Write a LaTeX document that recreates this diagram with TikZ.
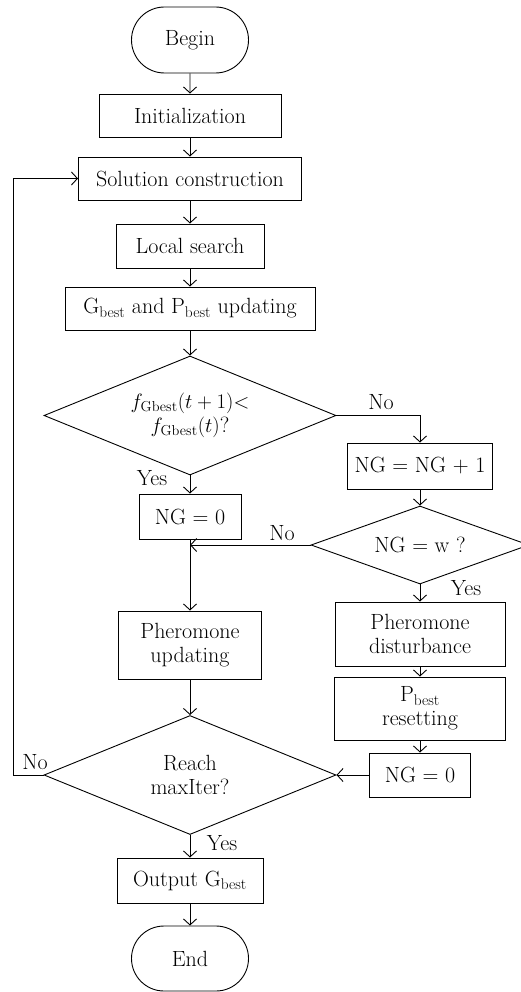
\documentclass[tikz,border=0pt]{standalone}
\usetikzlibrary{shapes.geometric,shapes.misc,arrows.meta}
\begin{document}
\begin{tikzpicture}[x=1pt,y=-1pt,
  font=\fontsize{22}{24}\selectfont,
  line width=0.9pt,
  >={Straight Barb[length=6pt,width=13pt]},
  box/.style={draw,rectangle,inner sep=0pt,align=center},
  term/.style={draw,rounded rectangle,inner sep=0pt,align=center},
  dia/.style={draw,diamond,inner sep=0pt,aspect=2.5,align=center},
  lbl/.style={inner sep=0pt}]
\useasboundingbox (0,0) rectangle (520,992);
\node[term,minimum width=117pt,minimum height=66pt] (begin) at (190,40) {Begin};
\node[box,minimum width=182pt,minimum height=43pt] (init) at (190,115.5) {Initialization};
\node[box,minimum width=223pt,minimum height=43pt] (sol) at (190,178.5) {Solution construction};
\node[box,minimum width=148pt,minimum height=44pt] (ls) at (190,246) {Local search};
\node[box,minimum width=250pt,minimum height=43pt] (upd) at (190,308.5) {G\textsubscript{best} and P\textsubscript{best} updating};
\node[dia,minimum width=292pt,minimum height=119pt] (d1) at (190,415.5) {$f_{\mathrm{Gbest}}(t+1){<}$\\$f_{\mathrm{Gbest}}(t)$?};
\node[box,minimum width=145pt,minimum height=46pt] (inc) at (420,466) {NG = NG + 1};
\node[box,minimum width=102pt,minimum height=45pt] (ngA) at (190,516.5) {NG = 0};
\node[dia,minimum width=218pt,minimum height=78pt,aspect=2.8] (d2) at (420,545) {NG = w ?};
\node[box,minimum width=143pt,minimum height=68pt] (phu) at (190,645) {Pheromone\\updating};
\node[box,minimum width=170pt,minimum height=64pt] (phd) at (420,634) {Pheromone\\disturbance};
\node[box,minimum width=171pt,minimum height=63pt] (pbr) at (420,708.5) {P\textsubscript{best}\\resetting};
\node[box,minimum width=101pt,minimum height=44pt] (ngB) at (420,775) {NG = 0};
\node[dia,minimum width=292pt,minimum height=119pt] (d3) at (190,775) {Reach\\maxIter?};
\node[box,minimum width=146pt,minimum height=45pt] (out) at (190,880.5) {Output G\textsubscript{best}};
\node[term,minimum width=117pt,minimum height=65pt] (end) at (190,958.5) {End};
\coordinate (lp) at (13,775);
\draw[->] (begin) -- (init);
\draw[->] (init) -- (sol);
\draw[->] (sol) -- (ls);
\draw[->] (ls) -- (upd);
\draw[->] (upd) -- (d1);
\draw[->] (d1.east) -| (inc.north);
\draw[->] (d1.south) -- (ngA.north);
\draw[->] (ngA.south) -- (phu.north);
\draw[->] (inc) -- (d2.north);
\draw[->] (d2.west) -- (ngA.south |- d2.west);
\draw[->] (d2.south) -- (phd.north);
\draw[->] (phd) -- (pbr);
\draw[->] (pbr) -- (ngB);
\draw[->] (ngB.west) -- (d3.east);
\draw[->] (phu.south) -- (d3.north);
\draw[->] (d3.west) -- (lp) |- (sol.west);
\draw[->] (d3.south) -- (out.north);
\draw[->] (out) -- (end);
\node[lbl] (no1) at (381,402) {No};
\node[lbl] (yes1) at (152,478) {Yes};
\node[lbl] (no2) at (282,533) {No};
\node[lbl] (yes2) at (466,588) {Yes};
\node[lbl] (no3) at (35,762) {No};
\node[lbl] (yes3) at (222,843) {Yes};
\end{tikzpicture}
\end{document}
